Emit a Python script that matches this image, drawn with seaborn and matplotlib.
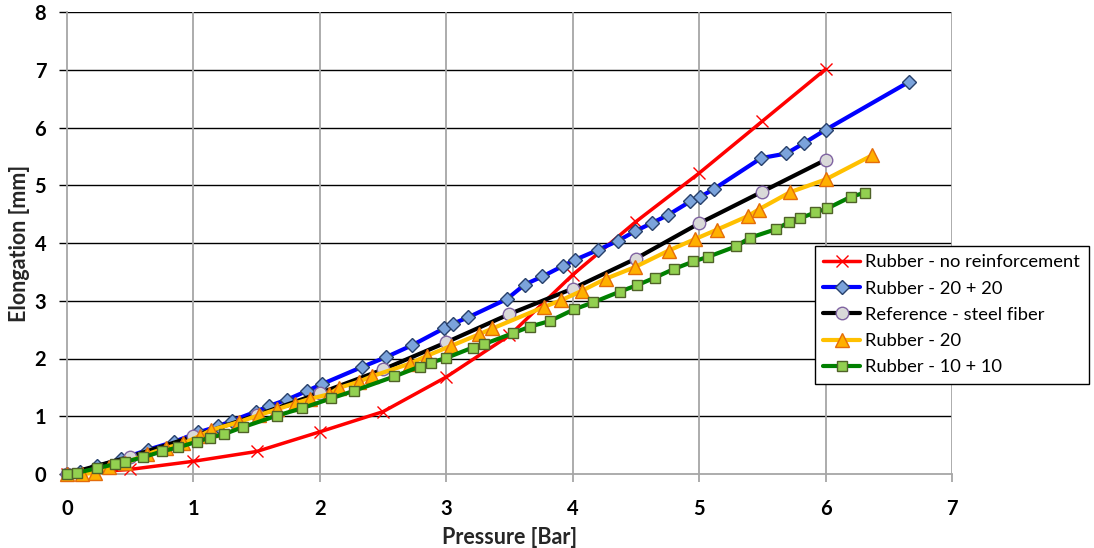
import matplotlib
matplotlib.use("Agg")
import matplotlib.pyplot as plt
import seaborn as sns
import pandas as pd

# ---- data ----
red_x = [0, 0.5, 1.0, 1.5, 2.0, 2.5, 3.0, 3.5, 4.0, 4.5, 5.0, 5.5, 6.0]
red_y = [0, 0.08, 0.22, 0.39, 0.73, 1.08, 1.68, 2.40, 3.45, 4.37, 5.21, 6.11, 7.01]

blue_x = [0, 0.1, 0.235, 0.43, 0.64, 0.85, 1.04, 1.197, 1.303, 1.495, 1.60, 1.743, 1.90, 2.02,
          2.33, 2.52, 2.73, 2.98, 3.05, 3.17, 3.48, 3.62, 3.76, 3.92, 4.02, 4.20, 4.36, 4.49,
          4.63, 4.75, 4.93, 5.01, 5.12, 5.49, 5.69, 5.83, 6.00, 6.66]
blue_y = [0, 0.03, 0.13, 0.26, 0.42, 0.56, 0.72, 0.83, 0.92, 1.08, 1.18, 1.29, 1.44, 1.56,
          1.85, 2.02, 2.23, 2.52, 2.60, 2.71, 3.03, 3.28, 3.42, 3.60, 3.71, 3.88, 4.04, 4.20,
          4.35, 4.48, 4.72, 4.80, 4.94, 5.47, 5.55, 5.73, 5.96, 6.79]

black_x = [0, 0.5, 1.0, 1.5, 2.0, 2.5, 3.0, 3.5, 4.0, 4.5, 5.0, 5.5, 6.0]
black_y = [0, 0.30, 0.65, 1.02, 1.40, 1.81, 2.28, 2.77, 3.21, 3.73, 4.34, 4.89, 5.44]

yellow_x = [0, 0.12, 0.22, 0.33, 0.46, 0.63, 0.78, 0.92, 1.05, 1.14, 1.36, 1.52, 1.66, 1.80,
            1.92, 2.07, 2.15, 2.31, 2.41, 2.71, 2.85, 3.04, 3.26, 3.365, 3.77, 3.91, 4.07,
            4.26, 4.49, 4.76, 4.97, 5.14, 5.39, 5.47, 5.72, 6.0, 6.37]
yellow_y = [0, 0.0, 0.02, 0.12, 0.19, 0.34, 0.45, 0.53, 0.66, 0.76, 0.90, 1.02, 1.12, 1.22,
            1.30, 1.38, 1.49, 1.60, 1.69, 1.91, 2.05, 2.22, 2.42, 2.52, 2.89, 3.01, 3.17,
            3.38, 3.58, 3.87, 4.07, 4.23, 4.47, 4.58, 4.88, 5.10, 5.52]

green_x = [0, 0.08, 0.235, 0.38, 0.46, 0.60, 0.75, 0.875, 1.03, 1.13, 1.24, 1.39, 1.66, 1.86,
           2.09, 2.27, 2.59, 2.79, 2.88, 3.0, 3.21, 3.30, 3.53, 3.66, 3.82, 4.01, 4.16, 4.375,
           4.51, 4.65, 4.80, 4.955, 5.07, 5.29, 5.40, 5.61, 5.71, 5.80, 5.92, 6.015, 6.20, 6.31]
green_y = [0, 0.02, 0.10, 0.17, 0.21, 0.29, 0.39, 0.46, 0.56, 0.63, 0.69, 0.81, 1.01, 1.14,
           1.31, 1.44, 1.69, 1.86, 1.93, 2.01, 2.19, 2.25, 2.44, 2.55, 2.65, 2.85, 2.97, 3.16,
           3.27, 3.40, 3.55, 3.68, 3.76, 3.94, 4.09, 4.24, 4.36, 4.43, 4.53, 4.60, 4.80, 4.87]

labels = ["Rubber - no reinforcement", "Rubber - 20 + 20", "Reference - steel fiber",
          "Rubber - 20", "Rubber - 10 + 10"]
x_ticks = [0, 1, 2, 3, 4, 5, 6, 7]
y_ticks = [0, 1, 2, 3, 4, 5, 6, 7, 8]

sns.set_theme(style="white")
plt.rcParams['font.family'] = ['Lato', 'DejaVu Sans']

fig = plt.figure(figsize=(10.94, 5.48), dpi=100)
ax = fig.add_axes([67/1094, 74/548, (952-67)/1094, (474-12)/548])

series = [
    (red_x, red_y, dict(color="#FF0000", lw=2.5, marker="x", ms=9, mew=1.0,
                        markeredgecolor="#FF0000")),
    (blue_x, blue_y, dict(color="#0000FF", lw=3, marker="D", ms=7.5, mew=1.0,
                          markerfacecolor="#7BA3DB", markeredgecolor="#27406B")),
    (black_x, black_y, dict(color="#000000", lw=3, marker="o", ms=9, mew=1.0,
                            markerfacecolor="#D9D9D9", markeredgecolor="#8064A2")),
    (yellow_x, yellow_y, dict(color="#FFC000", lw=3, marker="^", ms=10, mew=1.0,
                              markerfacecolor="#FFB000", markeredgecolor="#E46C0A")),
    (green_x, green_y, dict(color="#008000", lw=3, marker="s", ms=6.5, mew=1.0,
                            markerfacecolor="#92D050", markeredgecolor="#4F6228")),
]

for (xs, ys, st), lab in zip(series, labels):
    df = pd.DataFrame({"x": xs, "y": ys})
    sns.lineplot(data=df, x="x", y="y", ax=ax, sort=False, estimator=None,
                 label=lab, clip_on=False, zorder=3, **st)

ax.set_xlim(0, 7)
ax.set_ylim(0, 8)
ax.set_xticks(x_ticks)
ax.set_yticks(y_ticks)
ax.set_xticklabels([str(t) for t in x_ticks], fontsize=14.5, fontweight="bold")
ax.set_yticklabels([str(t) for t in y_ticks], fontsize=14.5, fontweight="bold")
ax.set_xlabel("Pressure [Bar]", fontsize=15.5, fontweight="bold", labelpad=6)
ax.set_ylabel("Elongation [mm]", fontsize=15.5, fontweight="bold", labelpad=3)

ax.grid(False)
for yv in y_ticks[1:]:
    ax.axhline(yv, color="#000000", lw=1.0, zorder=1)
for xv in x_ticks[1:]:
    ax.axvline(xv, color="#A6A6A6", lw=1.3, zorder=1)

for side in ["top", "right"]:
    ax.spines[side].set_visible(False)
ax.spines["left"].set_color("#A6A6A6")
ax.spines["left"].set_linewidth(1.3)
ax.spines["bottom"].set_color("#A6A6A6")
ax.spines["bottom"].set_linewidth(1.3)

ax.tick_params(axis="y", direction="out", length=6, width=1, color="#000000", pad=9,
               left=True, labelcolor="#000000")
ax.tick_params(axis="x", direction="out", length=6, width=1.3, color="#A6A6A6", pad=12,
               bottom=True, labelcolor="#000000")

leg = ax.legend(loc="upper left", bbox_to_anchor=(815/1094, (548-246)/548),
                bbox_transform=fig.transFigure, borderaxespad=0, fontsize=13.2,
                frameon=True, fancybox=False, edgecolor="#000000", framealpha=1,
                labelspacing=0.56, handlelength=2.0, handletextpad=0.3,
                borderpad=0.45)
leg.get_frame().set_linewidth(1.0)
for t in leg.get_texts():
    t.set_color("#000000")

fig.savefig("out.png", dpi=100)
